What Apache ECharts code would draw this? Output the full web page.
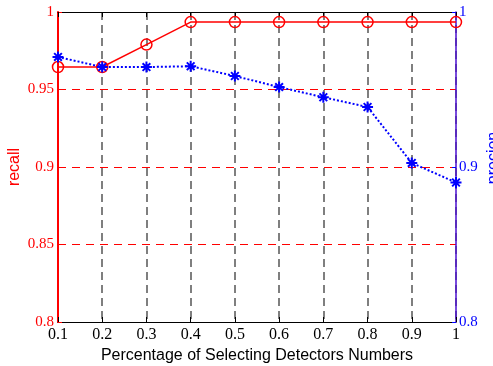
<!DOCTYPE html>
<html><head><meta charset="utf-8">
<script src="https://cdn.jsdelivr.net/npm/echarts@6/dist/echarts.min.js"></script>
<style>html,body{margin:0;padding:0;background:#fff}#c{width:493px;height:366px}</style>
</head><body><div id="c"></div>
<script>
const categories = ['0.1','0.2','0.3','0.4','0.5','0.6','0.7','0.8','0.9','1'];
const recall = [0.9645, 0.9645, 0.979, 0.9935, 0.9935, 0.9935, 0.9935, 0.9935, 0.9935, 0.9935];
const precision = [0.971, 0.9645, 0.9645, 0.965, 0.9587, 0.9516, 0.945, 0.9387, 0.9026, 0.890];
const xTitle = 'Percentage of Selecting Detectors Numbers';
const leftName = 'recall';
const rightName = 'precion';

const chart = echarts.init(document.getElementById('c'));
const serif = 'Liberation Serif';
const sans = 'Liberation Sans';
const asterisk = 'path://M0,-10L0,10M-10,0L10,0M-7,-7L7,7M-7,7L7,-7';
chart.setOption({
  animation: false,
  grid: {left: 58, right: 37, top: 12, bottom: 44, containLabel: false, outerBoundsMode: 'none'},
  xAxis: [{
    type: 'category', data: categories, boundaryGap: false, position: 'bottom',
    axisLine: {lineStyle: {color: '#000', width: 1}},
    axisTick: {inside: true, length: 5, lineStyle: {color: '#000'}},
    axisLabel: {color: '#000', fontFamily: serif, fontSize: 16, margin: 5},
    splitLine: {show: true, lineStyle: {color: '#555', type: [8, 5], width: 1.5}},
    name: xTitle, nameLocation: 'middle', nameGap: 26, nameMoveOverlap: false,
    nameTextStyle: {color: '#000', fontFamily: sans, fontSize: 16}
  }, {
    type: 'category', data: categories, boundaryGap: false, position: 'top',
    axisLine: {lineStyle: {color: '#000', width: 1}},
    axisTick: {inside: true, length: 5, lineStyle: {color: '#000'}},
    axisLabel: {show: false}, splitLine: {show: false}
  }],
  yAxis: [{
    type: 'value', min: 0.8, max: 1, interval: 0.05, position: 'left',
    axisLine: {show: true, lineStyle: {color: '#ff0000', width: 2}},
    axisTick: {show: true, inside: true, length: 4, lineStyle: {color: '#ff0000'}},
    axisLabel: {color: '#ff0000', fontFamily: serif, fontSize: 15, margin: 4},
    splitLine: {show: true, lineStyle: {color: '#ff0000', type: [8, 6], width: 1}},
    name: leftName, nameLocation: 'middle', nameGap: 35, nameRotate: 90, nameMoveOverlap: false,
    nameTextStyle: {color: '#ff0000', fontFamily: sans, fontSize: 16}
  }, {
    type: 'value', min: 0.8, max: 1, interval: 0.1, position: 'right',
    axisLine: {show: true, lineStyle: {color: '#4b0fd0', width: 1.5}},
    axisTick: {show: true, inside: true, length: 4, lineStyle: {color: '#0000ff'}},
    axisLabel: {color: '#0000ff', fontFamily: serif, fontSize: 15, margin: 3},
    splitLine: {show: false},
    name: rightName, nameLocation: 'middle', nameGap: 30, nameRotate: 90, nameMoveOverlap: false,
    nameTextStyle: {color: '#0000ff', fontFamily: sans, fontSize: 16, padding: [0, 0, 0, 18]}
  }],
  series: [{
    type: 'line', data: recall, yAxisIndex: 0, xAxisIndex: 0, clip: false,
    symbol: 'circle', symbolSize: 11, showSymbol: true,
    lineStyle: {color: '#ff0000', width: 1.5},
    itemStyle: {color: 'rgba(0,0,0,0)', borderColor: '#ff0000', borderWidth: 1.5}
  }, {
    type: 'line', data: precision, yAxisIndex: 1, xAxisIndex: 0, clip: false,
    symbol: asterisk, symbolSize: 11, showSymbol: true,
    lineStyle: {color: '#0000ff', width: 2, type: [2, 2]},
    itemStyle: {color: '#0000ff', borderColor: '#0000ff', borderWidth: 2}
  }]
});
</script></body></html>
